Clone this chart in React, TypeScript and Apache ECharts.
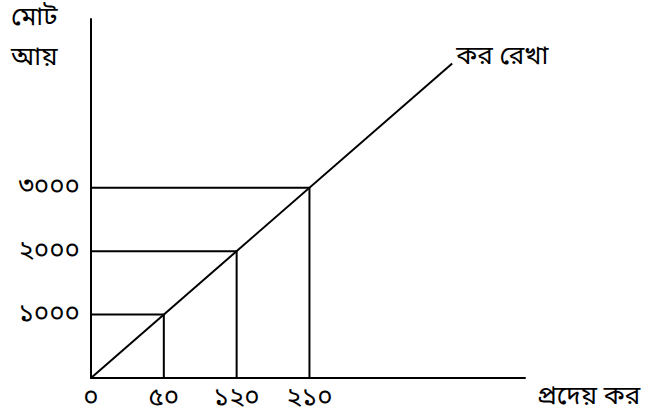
import React, { useEffect, useRef } from "react";
import * as echarts from "echarts";

// Schematic: total income (y) vs payable tax (x); guide points lie on the tax line
const incomes = [1000, 2000, 3000];
const taxes = [50, 120, 210];
const lineEndIncome = 4960;
const lineName = "কর রেখা";
const xName = "প্রদেয় কর";
const yName = "মোট\nআয়";

const bnDigits = ["০", "১", "২", "৩", "৪", "৫", "৬", "৭", "৮", "৯"];
const toBn = (n: number) =>
  String(n)
    .split("")
    .map((c) => (c >= "0" && c <= "9" ? bnDigits[+c] : c))
    .join("");

const FONT = "'Noto Sans Bengali', 'Noto Sans', sans-serif";
const FS = 26;

export default function App() {
  const ref = useRef<HTMLDivElement>(null);
  useEffect(() => {
    if (!ref.current) return;
    const chart = echarts.init(ref.current, undefined, { renderer: "svg" });
    const guideSeries = incomes.map((inc) => ({
      type: "line",
      data: [
        [0, inc],
        [inc, inc],
        [inc, 0],
      ],
      symbol: "none",
      silent: true,
      lineStyle: { color: "#000", width: 2 },
    }));
    chart.setOption({
      animation: false,
      textStyle: { fontFamily: FONT, color: "#000" },
      grid: { left: 91, right: 124, top: 19, bottom: 38 },
      xAxis: {
        type: "value",
        min: 0,
        max: 5960,
        interval: 1000,
        name: xName,
        nameLocation: "end",
        nameGap: 12,
        nameTextStyle: {
          fontSize: FS,
          color: "#000",
          fontFamily: FONT,
          verticalAlign: "top",
          padding: [6, 0, 0, 0],
        },
        axisLine: { lineStyle: { color: "#000", width: 2 } },
        axisTick: { show: false },
        splitLine: { show: false },
        axisLabel: {
          margin: 7,
          fontSize: FS,
          color: "#000",
          fontFamily: FONT,
          formatter: (v: number) => {
            if (v === 0) return toBn(0);
            const i = incomes.indexOf(v);
            return i >= 0 ? toBn(taxes[i]) : "";
          },
        },
      },
      yAxis: {
        type: "value",
        min: 0,
        max: 5660,
        interval: 1000,
        axisLine: { show: true, lineStyle: { color: "#000", width: 2 } },
        axisTick: { show: false },
        splitLine: { show: false },
        axisLabel: {
          margin: 11,
          fontSize: FS,
          color: "#000",
          fontFamily: FONT,
          formatter: (v: number) => (incomes.includes(v) ? toBn(v) : ""),
        },
      },
      graphic: [
        {
          type: "text",
          left: 11,
          top: -2,
          style: {
            text: yName,
            fontSize: FS,
            lineHeight: 40,
            fontFamily: FONT,
            fill: "#000",
          },
        },
      ],
      series: [
        ...guideSeries,
        {
          type: "line",
          name: lineName,
          data: [
            [0, 0],
            [lineEndIncome, lineEndIncome],
          ],
          symbol: "none",
          lineStyle: { color: "#000", width: 2 },
          endLabel: {
            show: true,
            formatter: lineName,
            fontSize: FS,
            color: "#000",
            fontFamily: FONT,
            distance: 4,
            offset: [0, -6],
          },
        },
      ],
    });
    return () => chart.dispose();
  }, []);
  return <div ref={ref} style={{ width: 649, height: 416, position: "absolute", left: 0, top: 0 }} />;
}
